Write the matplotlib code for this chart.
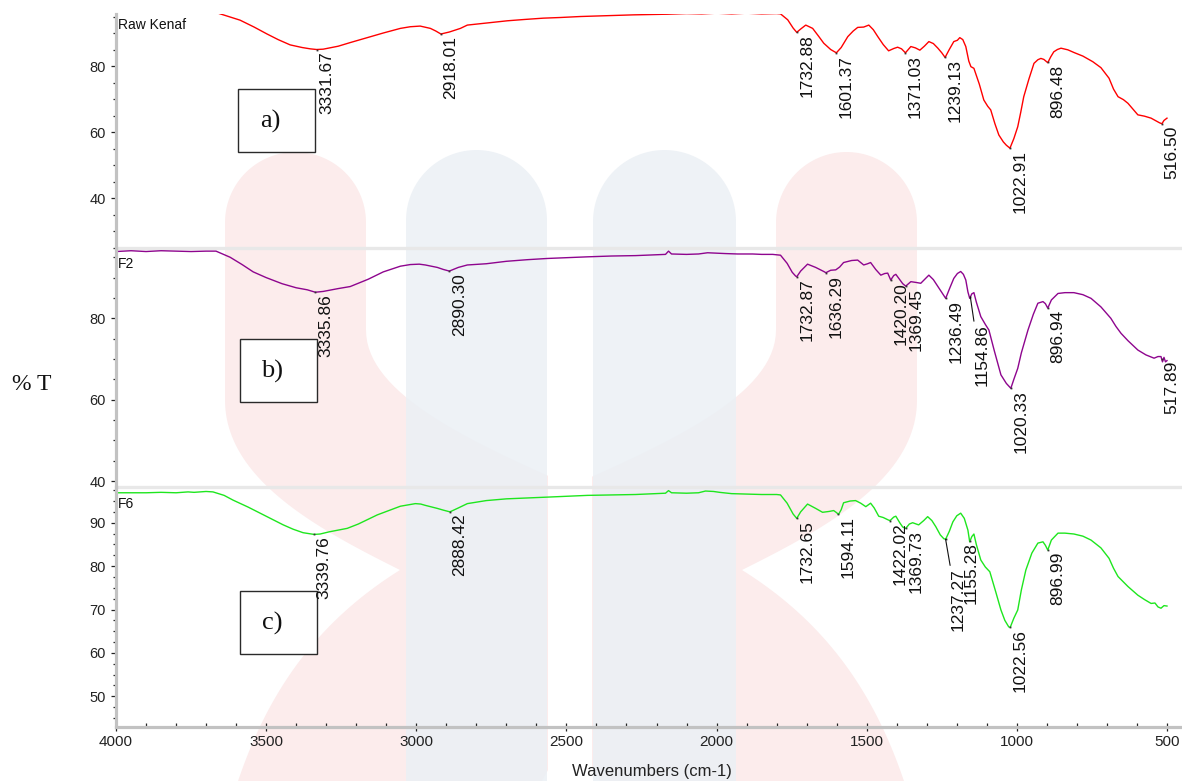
import numpy as np
import matplotlib
matplotlib.use("Agg")
import matplotlib.pyplot as plt
from matplotlib.patches import Polygon, Rectangle
from matplotlib.ticker import MultipleLocator

# ---------------------------------------------------------------- spectra
raw_wn = [4000, 3800, 3700, 3653, 3587, 3540, 3497, 3460, 3420, 3380, 3353, 3332,
          3310, 3260, 3220, 3160, 3110, 3053, 3020, 2987, 2953, 2935, 2918, 2890,
          2853, 2830, 2760, 2697, 2640, 2577, 2520, 2453, 2380, 2277, 2220, 2163,
          2100, 2050, 2000, 1950, 1900, 1850, 1800, 1787, 1763, 1745, 1733, 1720,
          1703, 1680, 1660, 1643, 1620, 1601, 1585, 1563, 1545, 1530, 1510, 1493,
          1478, 1463, 1445, 1427, 1410, 1397, 1384, 1371, 1353, 1338, 1323, 1308,
          1293, 1278, 1263, 1250, 1239, 1225, 1210, 1198, 1190, 1180, 1170, 1160,
          1153, 1143, 1125, 1110, 1097, 1087, 1073, 1060, 1045, 1035, 1023, 1010,
          997, 987, 977, 960, 943, 930, 920, 910, 897, 887, 877, 865, 853, 830,
          810, 780, 747, 720, 693, 678, 663, 645, 630, 612, 597, 575, 553, 535,
          525, 517, 510, 500]
raw_t = [97.6, 97.6, 97.2, 95.8, 93.9, 91.8, 89.7, 88.0, 86.4, 85.6, 85.2, 85.0,
         85.1, 86.0, 87.1, 88.7, 90.0, 91.4, 91.9, 92.1, 91.4, 90.6, 89.7, 90.3,
         91.4, 92.4, 93.1, 93.7, 94.1, 94.5, 94.7, 95.0, 95.2, 95.5, 95.6, 95.7,
         95.9, 95.8, 96.0, 95.8, 96.0, 95.8, 95.9, 95.8, 94.0, 91.5, 90.2, 91.2,
         92.4, 91.4, 89.0, 86.9, 85.0, 84.0, 85.6, 88.9, 90.6, 91.7, 91.8, 92.4,
         91.0, 88.9, 86.5, 84.6, 85.3, 85.7, 85.2, 84.0, 85.9, 85.5, 84.8, 86.0,
         87.4, 86.8, 85.4, 84.0, 82.6, 85.0, 87.4, 87.8, 88.6, 88.0, 85.9, 81.5,
         79.8, 79.3, 74.5, 69.7, 67.8, 66.7, 62.5, 59.1, 57.0, 56.0, 55.1, 58.0,
         61.6, 66.0, 70.7, 76.0, 80.8, 81.9, 82.3, 82.0, 81.0, 82.8, 84.3, 85.0,
         85.4, 84.9, 84.1, 83.0, 81.3, 79.5, 76.3, 73.0, 70.7, 69.8, 68.7, 66.8,
         65.2, 64.8, 64.2, 63.3, 62.8, 62.5, 63.5, 64.2]

f2_wn = [4000, 3950, 3900, 3850, 3800, 3750, 3700, 3667, 3620, 3580, 3543, 3500,
         3447, 3400, 3363, 3336, 3310, 3260, 3220, 3160, 3110, 3053, 3020, 2990,
         2970, 2930, 2910, 2890, 2860, 2830, 2767, 2700, 2630, 2563, 2500, 2430,
         2350, 2270, 2200, 2170, 2160, 2150, 2100, 2060, 2030, 2000, 1970, 1930,
         1880, 1850, 1813, 1787, 1765, 1748, 1737, 1733, 1720, 1697, 1670, 1643,
         1636, 1620, 1603, 1590, 1577, 1550, 1530, 1510, 1497, 1487, 1470, 1453,
         1440, 1430, 1420, 1410, 1403, 1390, 1380, 1370, 1353, 1335, 1320, 1293,
         1278, 1263, 1250, 1237, 1223, 1210, 1198, 1187, 1178, 1170, 1163, 1157,
         1150, 1143, 1135, 1120, 1105, 1093, 1075, 1053, 1035, 1020, 1010, 997,
         985, 963, 945, 930, 913, 905, 897, 885, 863, 840, 810, 780, 753, 720,
         687, 670, 653, 630, 597, 570, 543, 530, 520, 515, 510, 505, 500]
f2_t = [96.4, 96.6, 96.4, 96.6, 96.5, 96.4, 96.5, 96.5, 95.0, 93.2, 91.4, 90.0,
        88.5, 87.5, 87.0, 86.4, 86.6, 87.3, 87.8, 89.6, 91.4, 92.8, 93.2, 93.3,
        93.1, 92.5, 92.0, 91.6, 92.5, 93.1, 93.4, 94.0, 94.4, 94.7, 94.9, 95.1,
        95.3, 95.4, 95.6, 95.7, 96.5, 95.8, 95.7, 95.8, 96.1, 96.0, 95.9, 95.8,
        95.8, 95.7, 95.7, 95.5, 93.5, 91.3, 90.4, 90.2, 91.6, 93.3, 92.5, 91.5,
        91.2, 91.8, 91.9, 92.6, 93.7, 94.2, 94.3, 93.1, 93.4, 93.7, 92.0, 90.6,
        91.0, 91.1, 89.4, 90.5, 90.8, 89.5, 88.5, 87.9, 89.0, 88.8, 88.6, 90.6,
        89.5, 87.8, 86.3, 84.9, 87.5, 89.8, 91.0, 91.5, 90.8, 89.4, 86.5, 84.9,
        86.0, 86.3, 84.0, 80.4, 78.5, 77.1, 72.0, 66.1, 64.0, 62.8, 65.0, 67.7,
        71.5, 77.1, 81.0, 83.7, 84.1, 83.6, 82.5, 84.5, 86.1, 86.3, 86.3, 85.8,
        84.9, 82.8, 80.0, 78.0, 76.3, 74.5, 72.2, 71.0, 70.2, 70.6, 70.6, 69.3,
        70.4, 69.3, 69.6]

f6_wn = [4000, 3950, 3900, 3850, 3800, 3760, 3740, 3700, 3677, 3640, 3610, 3560,
         3520, 3480, 3443, 3410, 3377, 3340, 3320, 3290, 3230, 3193, 3130, 3053,
         3003, 2985, 2970, 2930, 2910, 2888, 2860, 2830, 2767, 2700, 2630, 2563,
         2500, 2430, 2350, 2270, 2200, 2170, 2160, 2150, 2100, 2060, 2037, 2010,
         1990, 1950, 1900, 1850, 1800, 1787, 1765, 1745, 1733, 1720, 1697, 1670,
         1647, 1625, 1610, 1600, 1594, 1585, 1577, 1555, 1537, 1520, 1503, 1487,
         1475, 1460, 1445, 1427, 1422, 1410, 1403, 1390, 1380, 1370, 1358, 1347,
         1327, 1310, 1297, 1283, 1270, 1255, 1243, 1237, 1225, 1213, 1200, 1187,
         1175, 1163, 1157, 1150, 1143, 1135, 1120, 1105, 1090, 1070, 1053, 1040,
         1027, 1022, 1010, 997, 985, 970, 950, 930, 913, 905, 897, 885, 863, 840,
         810, 780, 753, 720, 693, 678, 663, 630, 597, 575, 553, 540, 530, 520,
         510, 500]
f6_t = [96.9, 96.9, 96.9, 97.0, 96.9, 97.1, 97.0, 97.2, 97.1, 96.3, 95.2, 93.6,
        92.2, 90.8, 89.5, 88.5, 87.7, 87.3, 87.4, 87.9, 88.7, 89.7, 91.8, 93.8,
        94.4, 94.3, 94.0, 93.3, 92.9, 92.5, 93.4, 94.4, 95.1, 95.5, 95.7, 95.9,
        96.1, 96.3, 96.4, 96.5, 96.7, 96.8, 97.4, 96.9, 96.8, 96.9, 97.3, 97.2,
        97.0, 96.7, 96.6, 96.5, 96.5, 96.4, 94.5, 92.0, 91.0, 92.5, 94.3, 93.3,
        92.4, 92.6, 92.8, 92.3, 91.9, 93.0, 94.6, 95.0, 95.1, 94.5, 93.7, 94.5,
        93.4, 91.5, 91.2, 90.6, 90.5, 91.3, 91.5, 90.0, 89.0, 88.7, 89.7, 90.0,
        89.5, 90.5, 91.4, 90.5, 89.1, 87.2, 86.3, 86.2, 88.0, 90.2, 91.6, 92.2,
        91.0, 88.3, 85.6, 86.8, 87.4, 85.0, 81.4, 79.8, 78.7, 74.0, 69.9, 67.5,
        66.0, 65.9, 68.0, 69.9, 74.5, 79.1, 83.0, 85.3, 85.6, 84.8, 83.7, 86.0,
        87.6, 87.6, 87.4, 86.9, 86.0, 84.2, 81.8, 79.5, 77.6, 75.3, 73.3, 72.3,
        71.4, 71.5, 70.6, 70.3, 70.9, 70.8]

# peak positions annotated on each spectrum
raw_peaks = [3331.67, 2918.01, 1732.88, 1601.37, 1371.03, 1239.13, 1022.91, 896.48, 516.50]
f2_peaks = [3335.86, 2890.30, 1732.87, 1636.29, 1420.20, 1369.45, 1236.49, 1154.86,
            1020.33, 896.94, 517.89]
f6_peaks = [3339.76, 2888.42, 1732.65, 1594.11, 1422.02, 1369.73, 1237.27, 1155.28,
            1022.56, 896.99]

sample_names = ["Raw Kenaf", "F2", "F6"]
panel_tags = ["a)", "b)", "c)"]
x_ticks = [4000, 3500, 3000, 2500, 2000, 1500, 1000, 500]

# ---------------------------------------------------------------- figure
W, H = 1182, 781
plt.rcParams['font.family'] = ['Liberation Sans', 'DejaVu Sans']
fig = plt.figure(figsize=(W / 100, H / 100), dpi=100)

# backdrop layer in pixel coordinates
bg = fig.add_axes([0, 0, 1, 1], zorder=-10)
bg.set_xlim(0, W)
bg.set_ylim(H, 0)
bg.axis('off')


def rounded_bar(x0, x1, ytop, ybot):
    r = (x1 - x0) / 2.0
    th = np.linspace(np.pi, 0, 60)
    ax_ = x0 + r + r * np.cos(th)
    ay_ = ytop + r - r * np.sin(th)
    xs = np.concatenate([[x0], ax_, [x1]])
    ys = np.concatenate([[ybot], ay_, [ybot]])
    return np.column_stack([xs, ys])


def bezier(p0, p1, p2, p3, n=50):
    t = np.linspace(0, 1, n)[:, None]
    p0, p1, p2, p3 = map(np.asarray, (p0, p1, p2, p3))
    return (1 - t) ** 3 * p0 + 3 * (1 - t) ** 2 * t * p1 + 3 * (1 - t) * t ** 2 * p2 + t ** 3 * p3


def swoosh(mirror=False):
    r = 70.5
    top = 152
    th = np.linspace(np.pi, 0, 60)
    arc = np.column_stack([295.5 + r * np.cos(th), top + r - r * np.sin(th)])
    left = np.vstack([bezier((225, 400), (225, 480), (320, 530), (400, 570)),
                      bezier((400, 570), (480, 610), (560, 700), (610, 800))])
    right = np.vstack([bezier((366, 330), (366, 430), (620, 490), (742, 570)),
                       bezier((742, 570), (830, 625), (880, 700), (910, 800))])
    pts = np.vstack([[[225, top + r]], left, right[::-1], [[366, top + r]], arc[::-1]])
    if mirror:
        pts = pts.copy()
        pts[:, 0] = 1142 - pts[:, 0]
    return pts


blue = '#ebf0f5'
pink = '#fcecec'
bg.add_patch(Polygon(swoosh(False), closed=True, fc=pink, ec='none'))
bg.add_patch(Polygon(swoosh(True), closed=True, fc=pink, ec='none'))
bg.add_patch(Polygon(rounded_bar(406, 547, 150, H + 10), closed=True, fc=blue, ec='none', alpha=0.85))
bg.add_patch(Polygon(rounded_bar(593, 736, 150, H + 10), closed=True, fc=blue, ec='none', alpha=0.85))
bg.add_patch(Rectangle((548, 300), 44, H, fc='white', ec='none'))

# light separators between stacked panels
for yy in (248, 487):
    bg.plot([116, W], [yy, yy], color='#e8e8e8', lw=2.4, solid_capstyle='butt')

# panel tags in framed boxes
for (x0, y0, x1, y1), tag in zip([(238, 89, 315, 152), (240, 339, 317, 402), (240, 591, 317, 654)],
                                 panel_tags):
    bg.add_patch(Rectangle((x0, y0), x1 - x0, y1 - y0, fc='white', ec='#2a2a2a', lw=1.0))
    bg.text((x0 + x1) / 2 - 6, (y0 + y1) / 2 + 1, tag, family=['Liberation Serif', 'DejaVu Serif'],
            fontsize=19, ha='center', va='center', color='#111111')

bg.text(32, 384, '% T', family=['Liberation Serif', 'DejaVu Serif'], fontsize=17,
        ha='center', va='center', color='#111111')
bg.text(652, 764, 'Wavenumbers (cm-1)', fontsize=12, ha='center', va='top', color='#222222')


def px_axes(x0, y0, x1, y1):
    return fig.add_axes([x0 / W, 1 - y1 / H, (x1 - x0) / W, (y1 - y0) / H])


spine_grey = '#c2c2c2'
panels = [
    dict(box=(116, 14, W, 248), ylim=(24.85, 95.76), major=20, minor=5, wn=raw_wn, t=raw_t,
         color='#ff0000', peaks=raw_peaks, name_off=-4),
    dict(box=(116, 248, W, 487), ylim=(38.55, 97.27), major=20, minor=5, wn=f2_wn, t=f2_t,
         color='#8e058e', peaks=f2_peaks, name_off=-9),
    dict(box=(116, 487, W, 727), ylim=(42.93, 98.23), major=10, minor=2.5, wn=f6_wn, t=f6_t,
         color='#1ee61e', peaks=f6_peaks, name_off=-10),
]

# label offsets (pixels) where the default placement is shifted
special = {
    (1, 1154.86): (4, -27, True),
    (2, 1237.27): (5, -29, True),
    (2, 1155.28): (-7, -2, False),
}

for i, p in enumerate(panels):
    ax = px_axes(*p['box'])
    ax.patch.set_alpha(0)
    ax.set_xlim(4000, 450)
    ax.set_ylim(*p['ylim'])
    wn = np.asarray(p['wn'], float)
    t = np.asarray(p['t'], float)
    ax.plot(wn, t, color=p['color'], lw=1.0)

    for s in ('top', 'right'):
        ax.spines[s].set_visible(False)
    ax.spines['left'].set_color(spine_grey)
    ax.spines['left'].set_linewidth(2.3)
    ax.yaxis.set_major_locator(MultipleLocator(p['major']))
    ax.yaxis.set_minor_locator(MultipleLocator(p['minor']))
    ax.tick_params(axis='y', which='major', direction='out', length=3.5, width=0.9,
                   color='#222222', labelsize=10.5, labelcolor='#222222', pad=4)
    ax.tick_params(axis='y', which='minor', direction='out', length=2.0, width=0.9,
                   color='#222222')
    if i < 2:
        ax.spines['bottom'].set_visible(False)
        ax.tick_params(axis='x', which='both', bottom=False, labelbottom=False)
    else:
        ax.spines['bottom'].set_color(spine_grey)
        ax.spines['bottom'].set_linewidth(2.3)
        ax.set_xticks(x_ticks)
        ax.xaxis.set_minor_locator(MultipleLocator(100))
        ax.tick_params(axis='x', which='major', direction='inout', length=6, width=0.9,
                       color='#222222', labelsize=11, labelcolor='#222222', pad=3)
        ax.tick_params(axis='x', which='minor', direction='in', length=3, width=0.9,
                       color='#222222')

    ax.annotate(sample_names[i], xy=(0, 1), xycoords='axes fraction',
                xytext=(2, p['name_off']), textcoords='offset pixels',
                ha='left', va='top', fontsize=10, color='#111111')

    # peak labels, anchored on the curve at the labelled wavenumber
    for pk in p['peaks']:
        y_pk = np.interp(pk, wn[::-1], t[::-1])
        dx, dy, leader = special.get((i, pk), (2.5, -2, False))
        kw = {}
        if leader:
            kw['arrowprops'] = dict(arrowstyle='-', lw=0.8, color='#111111',
                                    shrinkA=0, shrinkB=0, relpos=(0, 1))
        ax.annotate(f"{pk:.2f}", xy=(pk, y_pk), xytext=(dx, dy), textcoords='offset pixels',
                    rotation=90, ha='left', va='top', fontsize=12.5, color='#111111',
                    annotation_clip=False, **kw)
        ax.plot([pk], [y_pk], marker='s', ms=1.3, color='#333333', mec='none')

fig.savefig('out.png', dpi=100)
